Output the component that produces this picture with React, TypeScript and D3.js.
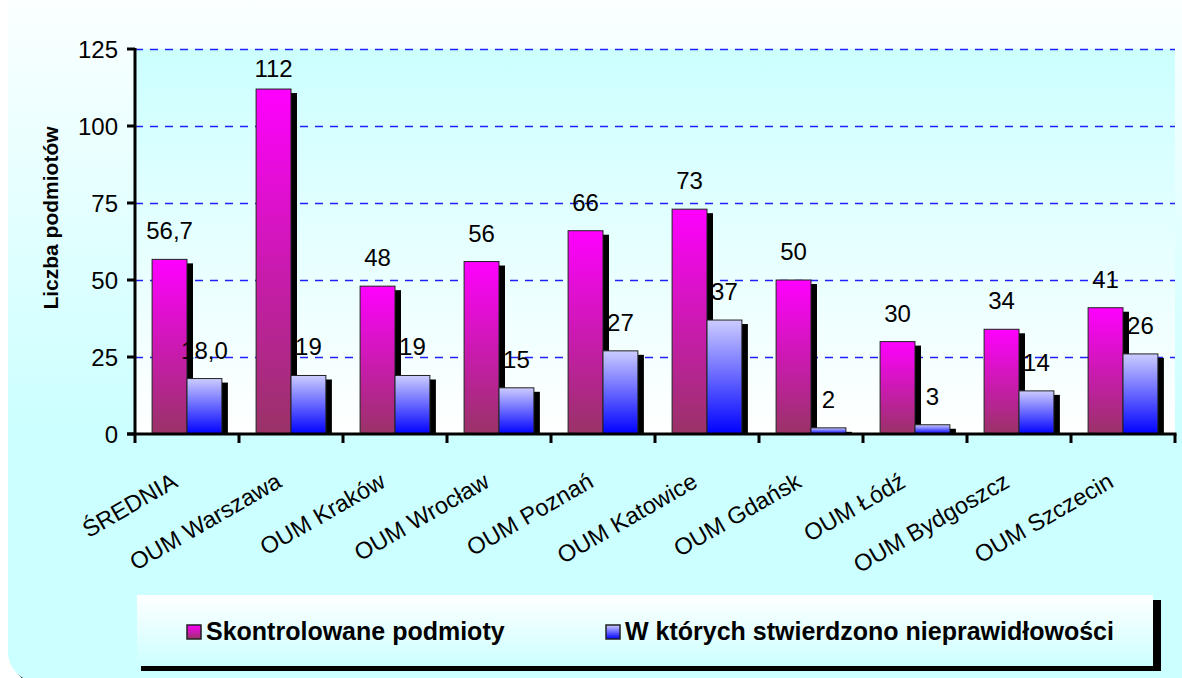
import React from "react";
import * as d3 from "d3";

const categories = [
  "ŚREDNIA",
  "OUM Warszawa",
  "OUM Kraków",
  "OUM Wrocław",
  "OUM Poznań",
  "OUM Katowice",
  "OUM Gdańsk",
  "OUM Łódź",
  "OUM Bydgoszcz",
  "OUM Szczecin",
];
const controlled = [56.7, 112, 48, 56, 66, 73, 50, 30, 34, 41];
const irregular = [18.0, 19, 19, 15, 27, 37, 2, 3, 14, 26];
const controlledLabels = ["56,7", "112", "48", "56", "66", "73", "50", "30", "34", "41"];
const irregularLabels = ["18,0", "19", "19", "15", "27", "37", "2", "3", "14", "26"];
const yTicks = [0, 25, 50, 75, 100, 125];
const seriesNames = ["Skontrolowane podmioty", "W których stwierdzono nieprawidłowości"];
const yTitle = "Liczba podmiotów";

const W = 1182;
const H = 678;
const plot = { left: 135, right: 1175, top: 49, bottom: 434 };
const FONT = "Arial, 'Liberation Sans', sans-serif";

export default function App() {
  const x = d3.scaleBand<string>().domain(categories).range([plot.left, plot.right]).paddingInner(0).paddingOuter(0);
  const inner = d3.scaleBand<number>().domain([0, 1]).range([0, x.bandwidth()]).paddingInner(0).paddingOuter(0.49);
  const y = d3.scaleLinear().domain([0, 125]).range([plot.bottom, plot.top]);
  const bw = inner.bandwidth();

  const series = [
    { values: controlled, labels: controlledLabels, grad: "url(#gPink)" },
    { values: irregular, labels: irregularLabels, grad: "url(#gBlue)" },
  ];

  return (
    <svg width={W} height={H} style={{ position: "absolute", left: 0, top: 0, display: "block" }} fontFamily={FONT}>
      <defs>
        <linearGradient id="gPanel" x1="0" y1="0" x2="0" y2="1">
          <stop offset="0" stopColor="#ffffff" />
          <stop offset="0.65" stopColor="#ccffff" />
          <stop offset="1" stopColor="#ccffff" />
        </linearGradient>
        <linearGradient id="gPlot" x1="0" y1="0" x2="0" y2="1">
          <stop offset="0" stopColor="#ccffff" />
          <stop offset="1" stopColor="#ffffff" />
        </linearGradient>
        <linearGradient id="gLegend" x1="0" y1="0" x2="0" y2="1">
          <stop offset="0" stopColor="#ffffff" />
          <stop offset="1" stopColor="#ccffff" />
        </linearGradient>
        <linearGradient id="gPink" x1="0" y1="0" x2="0" y2="1">
          <stop offset="0" stopColor="#ff00ff" />
          <stop offset="1" stopColor="#993366" />
        </linearGradient>
        <linearGradient id="gBlue" x1="0" y1="0" x2="0" y2="1">
          <stop offset="0" stopColor="#ccccff" />
          <stop offset="1" stopColor="#0000ff" />
        </linearGradient>
      </defs>

      {/* outer panel */}
      <rect x={13} y={-40} width={1220} height={727} rx={30} fill="#000" />
      <rect x={8} y={-40} width={1220} height={722} rx={30} fill="url(#gPanel)" />

      {/* plot area */}
      <rect x={plot.left} y={plot.top} width={plot.right - plot.left} height={plot.bottom - plot.top} fill="url(#gPlot)" />

      {/* gridlines */}
      {yTicks.filter((t) => t > 0).map((t) => (
        <line key={t} x1={plot.left} x2={plot.right} y1={Math.round(y(t)) + 0.5} y2={Math.round(y(t)) + 0.5} stroke="#2020ff" strokeWidth={1.3} strokeDasharray="8 7" />
      ))}

      {/* bars */}
      {categories.map((c, i) => (
        <g key={c}>
          {series.map((s, k) => {
            const bx = (x(c) as number) + (inner(k) as number);
            const top = y(s.values[i]);
            const h = plot.bottom - top;
            return (
              <g key={k}>
                <rect x={bx + 6} y={top + 4} width={bw} height={Math.max(0, h - 4)} fill="#000" />
                <rect x={bx} y={top} width={bw} height={h} fill={s.grad} stroke="#222" strokeWidth={1} />
              </g>
            );
          })}
        </g>
      ))}

      {/* value labels */}
      {categories.map((c, i) =>
        series.map((s, k) => {
          const cx = (x(c) as number) + (inner(k) as number) + bw / 2;
          const base = Math.max(y(s.values[i]) - 20, 77);
          return (
            <text key={c + k} x={cx} y={base} textAnchor="middle" fontSize={24} fill="#000">
              {s.labels[i]}
            </text>
          );
        })
      )}

      {/* axes */}
      <line x1={plot.left} x2={plot.left} y1={plot.top - 1} y2={plot.bottom + 9} stroke="#000" strokeWidth={3} />
      <line x1={plot.left - 8} x2={plot.right + 1.5} y1={plot.bottom} y2={plot.bottom} stroke="#000" strokeWidth={3} />
      {yTicks.map((t) => (
        <g key={t}>
          <line x1={plot.left - 8} x2={plot.left} y1={y(t)} y2={y(t)} stroke="#000" strokeWidth={3} />
          <text x={118} y={y(t)} dy="0.36em" textAnchor="end" fontSize={24} fill="#000">
            {t}
          </text>
        </g>
      ))}
      {categories.map((c) => (
        <line key={c} x1={(x(c) as number) + x.bandwidth()} x2={(x(c) as number) + x.bandwidth()} y1={plot.bottom} y2={plot.bottom + 9} stroke="#000" strokeWidth={3} />
      ))}
      {categories.map((c) => {
        const cx = (x(c) as number) + x.bandwidth() / 2 - 8;
        const cy = 486;
        return (
          <text key={c} x={cx} y={cy} textAnchor="end" fontSize={23.5} fill="#000" transform={`rotate(-30 ${cx} ${cy})`}>
            {c}
          </text>
        );
      })}

      {/* y title */}
      <text x={0} y={0} transform={`translate(58 ${218}) rotate(-90)`} textAnchor="middle" fontSize={21} fontWeight="bold" fill="#000">
        {yTitle}
      </text>

      {/* legend */}
      <rect x={141} y={600} width={1020} height={71} fill="#000" />
      <rect x={137} y={595} width={1016} height={71} fill="url(#gLegend)" />
      {seriesNames.map((n, k) => {
        const lx = k === 0 ? 187 : 606;
        return (
          <g key={n}>
            <rect x={lx} y={625} width={14} height={14} fill={series[k].grad} stroke="#222" strokeWidth={1.5} />
            <text x={lx + 19} y={640} fontSize={25} fontWeight="bold" fill="#000">
              {n}
            </text>
          </g>
        );
      })}
    </svg>
  );
}
